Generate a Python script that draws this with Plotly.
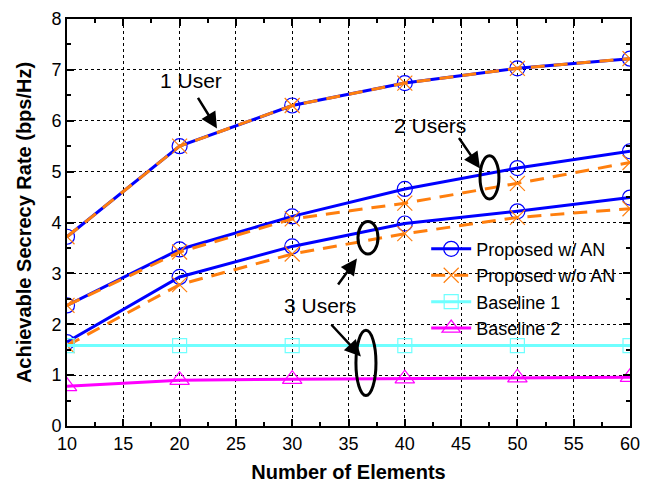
import plotly.graph_objects as go

elements = [10, 20, 30, 40, 50, 60]

wAN_1user = [3.72, 5.50, 6.30, 6.74, 7.03, 7.22]
woAN_1user = [3.72, 5.50, 6.30, 6.74, 7.03, 7.22]
wAN_2users = [2.37, 3.47, 4.12, 4.66, 5.07, 5.40]
woAN_2users = [2.37, 3.42, 4.07, 4.38, 4.77, 5.18]
wAN_3users = [1.65, 2.93, 3.53, 3.98, 4.22, 4.49]
woAN_3users = [1.58, 2.78, 3.38, 3.78, 4.10, 4.27]
baseline1 = [1.58, 1.58, 1.58, 1.58, 1.58, 1.58]
baseline2 = [0.78, 0.90, 0.92, 0.93, 0.95, 0.96]

x_ticks = [10, 15, 20, 25, 30, 35, 40, 45, 50, 55, 60]
y_ticks = [0, 1, 2, 3, 4, 5, 6, 7, 8]

BLUE = "#0000FF"
ORANGE = "#FF7F0E"
CYAN = "#6FFFFF"
MAGENTA = "#FF00FF"

fig = go.Figure()

for i, ys in enumerate([wAN_1user, wAN_2users, wAN_3users]):
    fig.add_trace(go.Scatter(
        x=elements, y=ys, mode="lines+markers", name="Proposed w/ AN",
        legendgroup="wan", showlegend=(i == 0),
        line=dict(color=BLUE, width=3),
        marker=dict(symbol="circle-open", size=15, color=BLUE, line=dict(width=1.2, color=BLUE)),
    ))
for i, ys in enumerate([woAN_1user, woAN_2users, woAN_3users]):
    fig.add_trace(go.Scatter(
        x=elements, y=ys, mode="lines+markers", name="Proposed w/o AN",
        legendgroup="woan", showlegend=(i == 0),
        line=dict(color=ORANGE, width=3, dash="14px,9px"),
        marker=dict(symbol="x-thin-open", size=15, color=ORANGE, line=dict(width=1.2, color=ORANGE)),
    ))
fig.add_trace(go.Scatter(
    x=elements, y=baseline1, mode="lines+markers", name="Baseline 1",
    line=dict(color=CYAN, width=3),
    marker=dict(symbol="square-open", size=14, color=CYAN, line=dict(width=1.2, color=CYAN)),
))
fig.add_trace(go.Scatter(
    x=elements, y=baseline2, mode="lines+markers", name="Baseline 2",
    line=dict(color=MAGENTA, width=3),
    marker=dict(symbol="triangle-up-open", size=17, color=MAGENTA, line=dict(width=1.2, color=MAGENTA)),
))

# ellipses
for (x0, x1, y0, y1) in [(46.68, 48.36, 4.46, 5.31), (35.84, 37.62, 3.38, 4.02), (35.66, 37.44, 0.60, 1.88)]:
    fig.add_shape(type="circle", xref="x", yref="y", x0=x0, x1=x1, y0=y0, y1=y1,
                  line=dict(color="black", width=3))

font_ann = dict(family="Liberation Sans, Arial", size=21, color="black")
for (tx, ty, txt) in [(21.0, 6.79, "1 User"), (42.24, 5.90, "2 Users"), (32.51, 2.365, "3 Users")]:
    fig.add_annotation(x=tx, y=ty, text=txt, showarrow=False, font=font_ann, xref="x", yref="y")

for (hx, hy, tx, ty) in [(23.32, 5.846, 21.55, 6.48), (46.68, 5.06, 44.72, 5.69),
                         (35.75, 3.29, 33.98, 2.75), (36.1, 1.365, 33.36, 2.02)]:
    fig.add_annotation(x=hx, y=hy, ax=tx, ay=ty, xref="x", yref="y", axref="x", ayref="y",
                       text="", showarrow=True, arrowhead=2, arrowsize=1.3, arrowwidth=2.5,
                       arrowcolor="black")

axis_common = dict(
    showline=True, linecolor="black", linewidth=2, mirror="ticks",
    ticks="inside", ticklen=7, tickwidth=1.5, tickcolor="black",
    showgrid=True, gridcolor="black", griddash="dot", gridwidth=1,
    zeroline=False, automargin=False, ticklabeloverflow="allow",
    tickfont=dict(family="Liberation Sans, Arial", size=18, color="black"),
)

fig.update_xaxes(
    range=[10, 60], tickvals=x_ticks, ticktext=[str(v) for v in x_ticks],
    minor=dict(dtick=2.5, tick0=10, ticks="inside", ticklen=4, tickcolor="black", showgrid=False),
    title=dict(text="<b>Number of Elements</b>", font=dict(family="Liberation Sans, Arial", size=20, color="black"), standoff=12),
    **axis_common,
)
fig.update_yaxes(
    range=[0, 8], tickvals=y_ticks, ticktext=[str(v) for v in y_ticks],
    minor=dict(dtick=0.5, tick0=0, ticks="inside", ticklen=4, tickcolor="black", showgrid=False),
    title=dict(text="<b>Achievable Secrecy Rate (bps/Hz)</b>", font=dict(family="Liberation Sans, Arial", size=20, color="black"), standoff=14),
    **axis_common,
)

# page body has an 8px default margin; size the figure so the plot box lands where the reference has it
fig.update_layout(
    width=645, height=477,
    margin=dict(l=59, r=23, t=11, b=59),
    paper_bgcolor="white", plot_bgcolor="white",
    showlegend=True,
    legend=dict(x=0.638, y=0.48, xanchor="left", yanchor="top",
                bgcolor="rgba(0,0,0,0)", borderwidth=0,
                font=dict(family="Liberation Sans, Arial", size=18, color="black"),
                tracegroupgap=0, itemwidth=40),
)

fig.write_html("out.html")
